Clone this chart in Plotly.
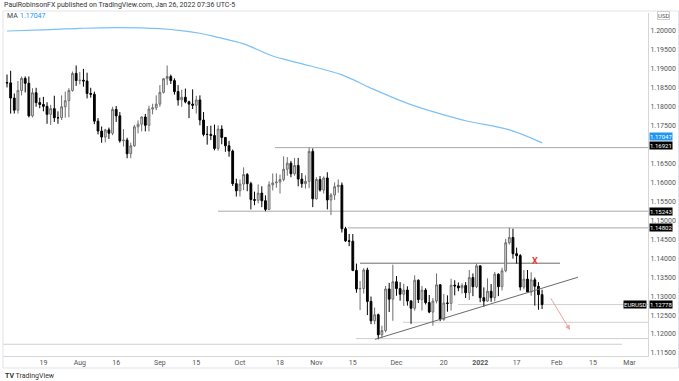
import pandas as pd
import plotly.graph_objects as go

# ---------------- data (EUR/USD daily) ----------------
dates = pd.bdate_range("2021-07-05", "2022-01-26")

closes = [
    # Jul
    1.1863, 1.1823, 1.1791, 1.1843, 1.1875, 1.1862, 1.1776, 1.1837, 1.1811, 1.1806,
    1.1801, 1.1780, 1.1795, 1.1771, 1.1771, 1.1800, 1.1816, 1.1843, 1.1888, 1.1869,
    # Aug
    1.1870, 1.1868, 1.1835, 1.1833, 1.1762, 1.1736, 1.1720, 1.1739, 1.1730, 1.1793,
    1.1776, 1.1710, 1.1712, 1.1676, 1.1697, 1.1747, 1.1754, 1.1773, 1.1751, 1.1794,
    1.1797, 1.1807,
    # Sep
    1.1838, 1.1874, 1.1880, 1.1869, 1.1840, 1.1818, 1.1825, 1.1813, 1.1807, 1.1804,
    1.1818, 1.1765, 1.1727, 1.1727, 1.1724, 1.1690, 1.1741, 1.1719, 1.1697, 1.1683,
    1.1597, 1.1578,
    # Oct
    1.1596, 1.1621, 1.1597, 1.1555, 1.1553, 1.1572, 1.1552, 1.1529, 1.1594, 1.1599,
    1.1601, 1.1608, 1.1635, 1.1651, 1.1623, 1.1645, 1.1609, 1.1597, 1.1603, 1.1682,
    1.1557,
    # Nov
    1.1608, 1.1580, 1.1612, 1.1554, 1.1567, 1.1589, 1.1593, 1.1478, 1.1446, 1.1445,
    1.1368, 1.1319, 1.1320, 1.1369, 1.1286, 1.1235, 1.1251, 1.1198, 1.1209, 1.1319,
    1.1292, 1.1338,
    # Dec
    1.1320, 1.1305, 1.1316, 1.1287, 1.1268, 1.1342, 1.1291, 1.1316, 1.1283, 1.1258,
    1.1287, 1.1330, 1.1239, 1.1282, 1.1281, 1.1329, 1.1327, 1.1322, 1.1328, 1.1309,
    1.1349, 1.1325, 1.1380,
    # Jan
    1.1296, 1.1287, 1.1313, 1.1296, 1.1358, 1.1325, 1.1367, 1.1441, 1.1455, 1.1412,
    1.1407, 1.1324, 1.1345, 1.1311, 1.1343, 1.1326, 1.1304, 1.12778,
]

highs = [
    # Jul
    1.1885, 1.1895, 1.1835, 1.1868, 1.1880, 1.1880, 1.1880, 1.1849, 1.1850, 1.1824,
    1.1826, 1.1812, 1.1805, 1.1829, 1.1788, 1.1830, 1.1840, 1.1849, 1.1893, 1.1909,
    # Aug
    1.1892, 1.1900, 1.1890, 1.1850, 1.1840, 1.1770, 1.1748, 1.1742, 1.1745, 1.1800,
    1.1802, 1.1786, 1.1741, 1.1718, 1.1705, 1.1752, 1.1764, 1.1775, 1.1781, 1.1803,
    1.1808, 1.1830,
    # Sep
    1.1857, 1.1875, 1.1909, 1.1885, 1.1875, 1.1857, 1.1845, 1.1848, 1.1816, 1.1846,
    1.1829, 1.1830, 1.1786, 1.1749, 1.1750, 1.1753, 1.1751, 1.1751, 1.1720, 1.1710,
    1.1687, 1.1610,
    # Oct
    1.1608, 1.1640, 1.1625, 1.1602, 1.1576, 1.1595, 1.1590, 1.1566, 1.1603, 1.1624,
    1.1624, 1.1621, 1.1669, 1.1667, 1.1657, 1.1665, 1.1665, 1.1625, 1.1619, 1.16921,
    1.1690,
    # Nov
    1.1614, 1.1617, 1.1616, 1.1627, 1.1572, 1.1600, 1.1608, 1.1600, 1.1483, 1.1464,
    1.1464, 1.1386, 1.1340, 1.1374, 1.1375, 1.1299, 1.1270, 1.1254, 1.1222, 1.1327,
    1.1335, 1.1383,
    # Dec
    1.1353, 1.1337, 1.1333, 1.1326, 1.1290, 1.1355, 1.1344, 1.1327, 1.1321, 1.1303,
    1.1295, 1.1360, 1.1331, 1.1306, 1.1302, 1.1346, 1.1342, 1.1336, 1.1334, 1.1337,
    1.1369, 1.1360, 1.1386,
    # Jan
    1.1376, 1.1323, 1.1347, 1.1332, 1.1364, 1.1360, 1.1375, 1.1451, 1.14802, 1.1478,
    1.1428, 1.1411, 1.1369, 1.1369, 1.1363, 1.1349, 1.1337, 1.1317,
]

lows = [
    # Jul
    1.1851, 1.1782, 1.1782, 1.1782, 1.1830, 1.1838, 1.1772, 1.1772, 1.1800, 1.1796,
    1.1788, 1.1755, 1.1752, 1.1760, 1.1755, 1.1765, 1.1771, 1.1772, 1.1840, 1.1855,
    # Aug
    1.1859, 1.1853, 1.1822, 1.1824, 1.1754, 1.1727, 1.1705, 1.1706, 1.1715, 1.1725,
    1.1760, 1.1705, 1.1695, 1.1664, 1.1664, 1.1694, 1.1730, 1.1735, 1.1735, 1.1735,
    1.1780, 1.1791,
    # Sep
    1.1800, 1.1835, 1.1857, 1.1860, 1.1832, 1.1803, 1.1800, 1.1809, 1.1770, 1.1794,
    1.1782, 1.1751, 1.1722, 1.1700, 1.1712, 1.1685, 1.1684, 1.1701, 1.1681, 1.1668,
    1.1591, 1.1563,
    # Oct
    1.1563, 1.1580, 1.1577, 1.1529, 1.1540, 1.1545, 1.1535, 1.15243, 1.1528, 1.1579,
    1.1586, 1.1571, 1.1603, 1.1618, 1.1614, 1.1618, 1.1590, 1.1586, 1.1584, 1.1585,
    1.1535,
    # Nov
    1.1555, 1.1576, 1.1571, 1.1529, 1.1514, 1.1554, 1.1573, 1.1468, 1.1443, 1.1432,
    1.1366, 1.1309, 1.1263, 1.1307, 1.1250, 1.1226, 1.1226, 1.1186, 1.1190, 1.1204,
    1.1258, 1.1235,
    # Dec
    1.1301, 1.1288, 1.1274, 1.1275, 1.1227, 1.1262, 1.1282, 1.1262, 1.1278, 1.1255,
    1.1222, 1.1281, 1.1234, 1.1235, 1.1259, 1.1262, 1.1302, 1.1313, 1.1307, 1.1295,
    1.1290, 1.1300, 1.1321,
    # Jan
    1.1284, 1.1272, 1.1285, 1.1285, 1.1286, 1.1300, 1.1315, 1.1363, 1.1436, 1.1399,
    1.1386, 1.1315, 1.1318, 1.1311, 1.1301, 1.1275, 1.1264, 1.1266,
]

first_open = 1.1864
opens = [first_open] + closes[:-1]

assert len(closes) == len(highs) == len(lows) == len(dates), (len(closes), len(highs), len(lows), len(dates))

# 200-day moving average
ma_dates = ["2021-07-05", "2021-07-19", "2021-08-02", "2021-08-16", "2021-09-01",
            "2021-09-16", "2021-09-23", "2021-10-04", "2021-10-14", "2021-10-25",
            "2021-11-10", "2021-11-22", "2021-12-06", "2021-12-15", "2021-12-28",
            "2022-01-13", "2022-01-26"]
ma_values = [1.2000, 1.2003, 1.2007, 1.2009, 1.2006,
             1.1994, 1.1983, 1.1966, 1.1934, 1.1916,
             1.1884, 1.1849, 1.1809, 1.1787, 1.1763,
             1.1739, 1.17047]

# axis ticks (1.17000 is hidden behind the MA price label in the reference)
x_tick_dates = ["2021-07-19", "2021-08-02", "2021-08-16", "2021-09-01", "2021-09-15",
                "2021-10-01", "2021-10-18", "2021-11-01", "2021-11-15", "2021-12-01",
                "2021-12-20", "2022-01-03", "2022-01-17", "2022-02-01", "2022-02-15",
                "2022-03-01"]
x_tick_labels = ["19", "Aug", "16", "Sep", "15", "Oct", "18", "Nov", "15", "Dec",
                 "20", "<b>2022</b>", "17", "Feb", "15", "Mar"]
y_ticks = [1.115, 1.120, 1.125, 1.130, 1.135, 1.140, 1.145, 1.150, 1.155, 1.160,
           1.165, 1.175, 1.180, 1.185, 1.190, 1.195, 1.200]

# drawn levels
level_prices = [1.16921, 1.15243, 1.14802, 1.1387, 1.12778, 1.1231, 1.1188, 1.1173]
trend_prices = [1.1186, 1.1350]
last_price = 1.12778
ma_last = 1.17047

# ---------------- figure ----------------
W, H = 679, 381
L, R, T, B = 3, 31, 13, 25
PW, PH = W - L - R, H - T - B


def px_x(px):
    return (px - L) / PW


def px_y(py):
    return (H - B - py) / PH


fig = go.Figure()
fig.add_trace(go.Scatter(
    x=ma_dates, y=ma_values, mode="lines",
    line=dict(color="#7cc0f5", width=1.2, shape="spline", smoothing=1.0),
    hoverinfo="skip", showlegend=False))
fig.add_trace(go.Candlestick(
    x=dates, open=opens, high=highs, low=lows, close=closes,
    increasing=dict(line=dict(color="#6e6e6e", width=1), fillcolor="#dcdcdc"),
    decreasing=dict(line=dict(color="#000000", width=1), fillcolor="#000000"),
    whiskerwidth=0, hoverinfo="skip", showlegend=False))

line_specs = [  # (price, x_start_px, x_end_px, color)
    (level_prices[0], 275, 648, "#a8a8a8"),
    (level_prices[1], 218, 648, "#a8a8a8"),
    (level_prices[2], 348, 648, "#a8a8a8"),
    (level_prices[3], 360, 560, "#6a6a6a"),
    (level_prices[4], 458, 648, "#cfcfcf"),
    (level_prices[5], 403, 648, "#cfcfcf"),
    (level_prices[6], 356, 648, "#cfcfcf"),
    (level_prices[7], 3, 622, "#cfcfcf"),
]
shapes = []
for price, xs, xe, col in line_specs:
    shapes.append(dict(type="line", xref="paper", yref="y", x0=px_x(xs), x1=px_x(xe),
                       y0=price, y1=price, line=dict(color=col, width=1), layer="below"))
shapes.append(dict(type="line", xref="paper", yref="y", x0=px_x(375), x1=px_x(578),
                   y0=trend_prices[0], y1=trend_prices[1],
                   line=dict(color="#6a6a6a", width=1)))
# outer chart frame
shapes.append(dict(type="rect", xref="paper", yref="paper", x0=px_x(3), x1=px_x(678.5),
                   y0=px_y(368), y1=px_y(11), line=dict(color="#e0e3eb", width=1)))

font = "Roboto, Arial, sans-serif"
ann = []
ann.append(dict(xref="paper", yref="paper", x=px_x(2), y=px_y(5), xanchor="left", yanchor="middle",
                text="PaulRobinsonFX published on TradingView.com, Jan 26, 2022 07:36 UTC-5",
                showarrow=False, font=dict(size=7, color="#333", family=font)))
ann.append(dict(xref="paper", yref="paper", x=px_x(5), y=px_y(16), xanchor="left", yanchor="middle",
                text="MA", showarrow=False, font=dict(size=7, color="#444", family=font)))
ann.append(dict(xref="paper", yref="paper", x=px_x(18), y=px_y(16), xanchor="left", yanchor="middle",
                text=f"{ma_last:.5f}", showarrow=False, font=dict(size=7, color="#2196f3", family=font)))
ann.append(dict(xref="paper", yref="paper", x=px_x(663), y=px_y(16), xanchor="center", yanchor="middle",
                text="USD", showarrow=False, font=dict(size=6, color="#555", family=font),
                bordercolor="#d0d0d0", borderwidth=1, borderpad=0))
ann.append(dict(xref="paper", yref="paper", x=px_x(3), y=px_y(376), xanchor="left", yanchor="middle",
                text="<b>TV</b> TradingView", showarrow=False,
                font=dict(size=7, color="#333", family=font)))

# price labels on axis (yshift keeps the two upper labels stacked like the reference)
for price, bg, ysh in [(ma_last, "#2196f3", 6), (level_prices[0], "#000", 2), (level_prices[1], "#000", 0),
                       (level_prices[2], "#000", 0), (last_price, "#000", 0)]:
    ann.append(dict(xref="paper", yref="y", x=1, y=price, xanchor="left", yanchor="middle",
                    xshift=1, yshift=ysh, text=f"{price:.5f}", showarrow=False, bgcolor=bg, borderpad=0,
                    font=dict(size=6, color="white", family=font)))
ann.append(dict(xref="paper", yref="y", x=1, y=last_price, xanchor="right", yanchor="middle",
                xshift=-1, text="EURUSD", showarrow=False, bgcolor="#000", borderpad=0,
                font=dict(size=6, color="white", family=font)))
# red X
ann.append(dict(xref="paper", yref="y", x=px_x(530), y=1.1393, xanchor="left", text="<b>X</b>",
                showarrow=False, font=dict(size=9, color="#e53935", family=font)))
# red arrow
ann.append(dict(xref="paper", yref="paper", x=px_x(570), y=px_y(330),
                ax=-20, ay=-33, axref="pixel", ayref="pixel", text="", showarrow=True,
                arrowhead=2, arrowsize=1, arrowwidth=1, arrowcolor="#f2a0a0"))

fig.update_layout(
    width=W, height=H, margin=dict(l=L, r=R, t=T, b=B),
    paper_bgcolor="white", plot_bgcolor="white",
    shapes=shapes, annotations=ann, showlegend=False,
    xaxis=dict(type="date", rangebreaks=[dict(bounds=["sat", "mon"])],
               range=["2021-07-01 21:36", "2022-03-08 02:24"],
               tickvals=x_tick_dates, ticktext=x_tick_labels,
               tickfont=dict(size=7, color="#555", family=font),
               showgrid=False, zeroline=False, showline=True, linecolor="#d6d6d6",
               ticks="", rangeslider=dict(visible=False), fixedrange=True),
    yaxis=dict(side="right", range=[1.11420, 1.20475], tickvals=y_ticks,
               tickformat=".5f", tickfont=dict(size=7, color="#555", family=font),
               showgrid=False, zeroline=False, showline=True, linecolor="#d6d6d6",
               ticks="", fixedrange=True),
)

fig.write_html("out.html", config={"displayModeBar": False},
               post_script="document.body.style.margin='0';document.body.style.padding='0';"
                           "document.body.style.overflow='hidden';")
